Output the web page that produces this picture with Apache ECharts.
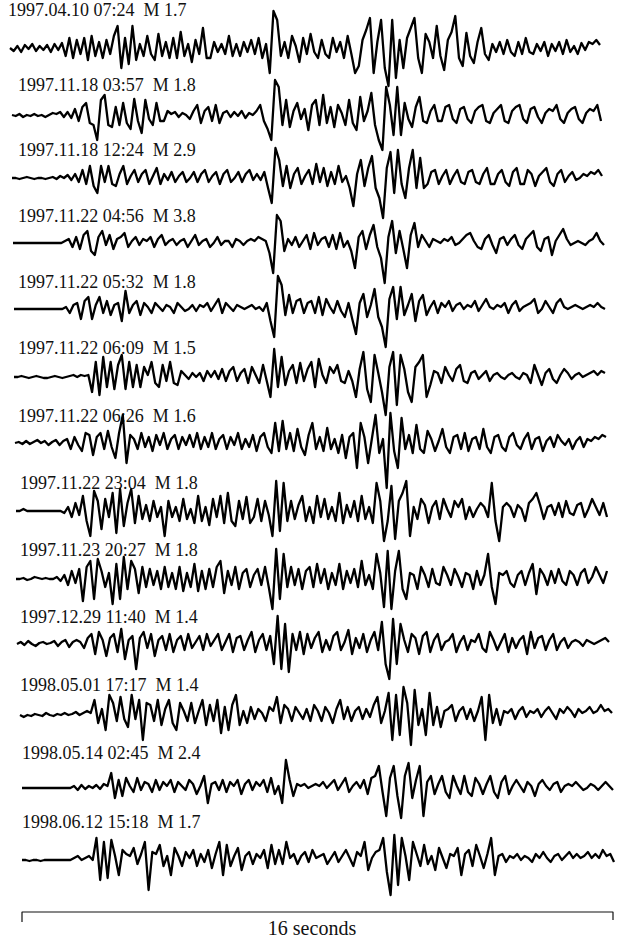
<!DOCTYPE html>
<html>
<head>
<meta charset="utf-8">
<script src="https://cdn.jsdelivr.net/npm/echarts@6/dist/echarts.min.js"></script>
<style>
html,body{margin:0;padding:0;background:#fff;}
#chart{width:624px;height:941px;}
</style>
</head>
<body>
<div id="chart"></div>
<script>
// ---------------- data ----------------
const LABELS = [
  "1997.04.10 07:24  M 1.7",
  "1997.11.18 03:57  M 1.8",
  "1997.11.18 12:24  M 2.9",
  "1997.11.22 04:56  M 3.8",
  "1997.11.22 05:32  M 1.8",
  "1997.11.22 06:09  M 1.5",
  "1997.11.22 06:26  M 1.6",
  "1997.11.22 23:04  M 1.8",
  "1997.11.23 20:27  M 1.8",
  "1997.12.29 11:40  M 1.4",
  "1998.05.01 17:17  M 1.4",
  "1998.05.14 02:45  M 2.4",
  "1998.06.12 15:18  M 1.7"
];
const SCALE_SECONDS = 16;
const SCALE_LABEL = "16 seconds";

// amplitudes (up = positive), 160 evenly spaced samples per record
const TRACE_01 = [0,-3,2,-4,3,-1,4,-3,2,-2, 3,-4,4,-2,5,-8,10,-10,8,-6, 10,-12,12,-8,6,-10,8,-6,12,22, -20,10,-16,22,-12,4,-8,12,-6,-12, 14,-8,6,-10,10,-10,16,-8,4,-14, 8,-6,20,-10,-10,6,-4,4,-6,12, -8,4,-8,6,-4,8,-6,10,-10,4, -25,37,28,-8,6,-10,12,2,-14,10, -6,14,-4,-10,8,-6,-10,10,-4,6, -10,12,-6,-25,-18,8,18,30,-25,6, 28,-20,-38,28,-30,8,-20,10,20,30, -10,-25,14,6,-10,22,-8,-22,8,16, 32,-10,-18,15,-8,-15,6,20,-6,-12, 4,-4,6,-6,8,-4,-8,6,-6,10, -4,-6,4,-3,6,-8,4,-3,6,-6, 8,-4,2,-6,5,-2,6,4,8,3];
const TRACE_02 = [0,-1,1,-2,0,-1,1,-1,0,-2, 0,2,1,3,-2,3,-3,6,-6,8, 12,-8,-10,-25,15,20,-10,-12,8,-10, 12,-8,-14,16,-6,-18,15,-4,-10,12, -6,-6,4,1,3,-2,2,0,-4,4, 10,-8,4,8,-6,10,-8,2,4,-2, 3,-1,4,-3,2,0,4,10,-6,-14, -25,35,28,-10,15,-12,4,12,-4,6, -15,10,15,-10,20,-8,8,-12,10,2, -10,15,-8,-15,18,-6,4,22,-10,-25, -35,28,10,-20,28,-20,12,-4,-12,8, 18,-6,-8,4,10,-6,-6,8,10,-4, -8,6,8,-4,-8,4,8,10,-6,-8, 2,6,10,-6,-8,4,8,10,-4,-8, 6,8,-2,-8,2,6,4,10,-4,-8, 2,6,8,-4,-8,2,6,4,10,-6];
const TRACE_03 = [0,0,-1,0,1,0,-1,0,0,-1, 0,1,-1,2,0,3,-2,4,-4,8, -6,12,-8,-15,12,-4,12,-6,-8,4, 12,-6,2,8,-4,4,8,-6,2,10, -6,4,-2,6,-4,2,6,-4,0,6, -4,4,8,-4,2,6,-6,4,8,-4, 0,6,-4,4,8,-2,4,-2,6,-10, -25,30,18,-8,12,-10,4,10,-6,2, 8,-6,14,-4,10,-8,6,-6,12,-4, 2,-10,-28,4,18,-8,10,22,-10,-20, -40,10,26,-15,28,-6,-20,10,28,-10, 20,-10,-6,6,8,-6,2,8,-6,2, 8,-4,-6,6,8,-4,-6,4,10,-6, -6,4,8,-4,-8,6,10,-6,-6,8, 4,-8,2,6,10,-4,-8,4,8,-4, 2,6,-2,0,4,2,6,4,8,2];
const TRACE_04 = [0,0,0,0,0,0,0,0,0,0, 0,0,0,0,2,4,-4,6,-6,8, 12,-8,-12,6,12,-2,8,-6,4,6, 10,-4,2,6,-2,4,2,6,-4,4, 8,-2,2,4,-2,2,4,-4,2,8, -2,2,4,-4,0,6,-2,2,2,-4, 4,2,-2,2,4,2,6,4,2,-10, -30,28,22,-8,4,-2,6,-4,2,8, -6,10,-2,4,6,-4,8,-6,10,-4, 2,-8,-25,6,12,-6,8,18,-4,-15, -40,6,22,-10,12,-6,-25,8,20,-4, 8,2,-4,4,2,0,4,2,6,-2, 0,4,8,10,2,-4,-6,4,8,-2, -10,4,6,-2,4,8,-2,-6,4,8, 12,-4,-8,4,6,-12,2,8,14,4, -2,0,2,0,-2,2,4,10,2,-2];
const TRACE_05 = [0,0,0,0,0,0,0,0,0,0, 0,0,0,0,2,-4,4,6,-10,8, 12,-10,4,12,-4,8,-6,4,6,-12, 18,-4,4,8,-6,6,2,-4,6,2, -2,4,2,-4,6,2,-2,0,4,-2, 4,2,6,-2,4,10,-4,6,2,-2, 4,2,0,2,4,0,2,-2,6,-12, -28,33,24,-6,14,-4,8,10,-4,6, 8,-4,12,-6,10,2,-4,8,-2,-8, 6,-10,-25,6,15,-8,4,20,-8,-18, -38,10,22,-10,22,-6,4,15,-12,8, 14,-6,2,8,-4,6,2,8,-2,4, 6,0,4,2,8,-2,4,10,2,0, 4,2,6,-4,4,8,-2,2,4,6, 10,-4,0,8,2,-4,6,10,2,0, 2,4,2,0,2,4,2,6,2,0];
const TRACE_06 = [0,0,1,0,-1,0,1,0,-1,-1, 0,1,0,-1,0,1,2,0,2,1, 2,-15,15,-18,20,-10,15,-12,12,22, -12,15,-10,12,-10,10,2,15,-6,-10, 12,-4,15,-6,-8,6,2,-2,4,0, 4,-4,6,0,6,-2,8,-4,6,10, -4,4,8,-6,10,2,-6,12,-4,-20, 28,-10,20,-8,6,12,-6,14,-4,8, 15,-10,18,2,-6,10,4,12,-4,-6, 6,-4,-20,8,25,-12,-25,22,4,-15, -38,10,25,-28,22,8,-15,-25,10,15, 22,-20,-8,6,4,-6,10,2,-4,8, 12,-4,-6,4,6,-2,2,6,-4,2, 4,0,-2,2,4,0,-2,4,2,-6, 12,2,-8,4,8,-2,-6,2,8,4, -2,2,4,0,2,4,6,2,6,4];
const TRACE_07 = [0,1,-1,2,-1,1,3,0,2,-2, 1,3,-2,2,4,-6,6,-2,-8,10, 8,-12,6,10,-6,12,-4,-15,10,28, -20,8,4,-6,10,-4,6,-8,8,-2, 10,-6,4,8,-6,6,-2,8,-4,10, -6,6,-4,10,-6,4,8,-6,6,-2, 10,-6,4,-4,8,-8,6,10,-4,-10, 20,-8,22,-6,10,-8,14,-4,-12,8, 20,-6,6,-8,15,-6,4,-10,8,-15, 6,10,-25,20,6,-20,4,28,-10,4, -45,30,-8,-25,25,-6,8,-10,18,-6, -10,12,4,-8,2,14,-4,-10,6,8, -6,10,-8,4,6,-6,14,-4,-10,6, 8,-4,-8,6,10,-2,-6,4,10,-6, 4,6,-8,2,6,-4,8,2,-2,4, -6,2,6,-4,4,2,6,4,8,6];
const TRACE_08 = [0,0,2,0,0,0,0,0,0,0, 0,0,0,-2,4,-6,8,-4,15,-10, -25,20,10,-18,12,-6,18,-22,22,-15, 8,22,-12,15,-8,6,-10,10,-6,4, -25,10,-6,4,-10,12,-8,2,-12,15, -10,4,-14,12,-6,15,-12,18,-10,-15, 10,-8,14,-12,-6,12,-10,10,-4,-25, 30,-20,28,-10,10,-8,6,15,-10,4, -12,15,-6,12,-8,4,-10,18,-12,6, -6,10,-10,15,-8,4,-12,28,10,-30, -10,25,-28,10,18,30,-25,4,-8,12, 6,-12,4,10,-8,12,2,-6,10,4, 12,-8,4,-6,2,8,4,-6,28,-10, -30,4,8,4,-6,6,2,-10,8,12, 18,6,-8,4,6,-4,8,-6,10,-2, -4,6,8,-6,2,12,4,-4,8,-6];
const TRACE_09 = [0,0,1,-1,0,2,1,0,1,0, 0,2,-2,4,-6,8,-4,10,-22,12, 18,-20,20,8,-8,6,-25,15,-20,22, -10,18,10,-14,12,-8,10,-6,8,-10, 12,-8,6,-10,12,-12,6,-8,15,-12, 8,-10,10,-8,12,18,-14,8,-6,12, -10,6,10,-8,4,10,-6,12,-8,-30, 30,-20,25,-8,12,-6,10,-10,8,12, -8,15,-4,10,-10,6,-6,15,-10,8, -4,10,-8,18,-6,4,-10,25,6,-28, 28,-30,8,28,-10,-20,6,4,-10,12, 4,-8,10,-4,-6,12,4,-6,10,2, -8,6,4,-10,8,-6,4,25,-8,-25, 6,4,8,-4,-8,4,8,-6,6,15, -15,10,4,-6,8,-4,10,-2,-6,8, 4,-6,6,10,-4,2,12,4,-4,8];
const TRACE_10 = [0,2,-1,3,0,-2,1,2,0,1, 3,-2,2,4,-3,2,4,2,-4,6, 10,-10,12,4,-12,6,10,-8,15,-15, 4,8,-25,6,12,-4,10,-12,4,8, -6,10,-8,4,8,-6,10,-4,2,8, -6,10,-2,4,10,-6,2,10,-8,6, 8,-6,4,12,-8,4,10,-6,8,-20, 28,-25,20,-28,10,-6,12,-10,10,-4, 6,12,-8,4,-6,8,12,-6,2,14, -10,6,-4,10,-8,4,12,-6,22,-20, -35,25,-20,20,4,-8,10,6,-10,8, 12,-8,4,10,-6,2,4,10,-8,2, 8,-6,4,2,10,-4,-8,12,4,-6, 2,10,-8,6,-4,4,8,-10,12,-4, 6,8,-6,4,10,-6,2,6,-4,2, 4,2,-2,4,2,0,2,4,6,2];
const TRACE_11 = [0,-2,0,-1,1,0,-1,2,0,-1, 1,0,2,0,1,3,0,2,4,2, 15,-8,6,-15,20,12,-6,18,-4,-12, 20,-4,15,-25,12,10,-6,15,-10,6, 15,-8,-15,12,4,-6,12,-8,4,15, -10,10,-6,15,-18,8,-15,10,20,-10, 4,-8,8,-4,6,2,-6,8,4,18, -8,10,6,-6,8,2,-4,6,-6,10, 4,-6,8,2,-8,6,15,-4,8,-6, 4,8,-4,6,-2,10,18,-8,4,22, -25,20,-20,28,12,-30,25,-10,6,-20, 22,-10,8,-12,4,6,10,-6,4,8, -4,6,-6,4,18,-25,20,-8,6,-10, 4,2,6,-4,4,8,-2,4,2,6, -2,4,8,2,-4,6,2,8,4,-2, 6,2,4,8,2,4,10,4,6,2];
const TRACE_12 = [0,0,0,0,0,0,0,0,0,0, 0,0,0,0,2,-2,3,-1,2,0, 3,-1,4,2,15,-10,8,-8,10,2, -4,10,-2,6,4,-4,8,-2,6,2, 8,-4,6,2,-2,8,4,-6,2,12, -15,4,6,-2,8,-4,6,2,8,-6, 4,8,-2,6,2,8,-4,10,-6,2, -15,28,8,-8,4,2,4,0,2,4, 2,6,0,4,8,-2,4,10,-4,2, 6,0,8,-6,10,12,22,-4,-28,10, 22,-8,-30,12,25,-10,8,22,-28,6, 12,-6,4,12,-4,-10,12,2,-6,12, -4,-8,10,4,-6,4,12,-4,-10,6, 12,-6,2,8,2,-4,6,2,-8,4, 8,2,-2,4,6,-4,2,4,2,6, 2,-2,0,4,2,-2,2,6,2,-2];
const TRACE_13 = [0,0,-1,0,0,-1,0,0,0,0, 0,0,0,0,2,4,0,2,4,0, 22,-20,18,-18,20,4,-15,10,6,4, 12,-4,6,18,-30,8,6,15,-6,4, -15,12,4,-6,8,2,10,-6,6,-2, 10,-8,6,18,-15,15,-6,4,12,-10, 4,8,-4,6,2,10,-8,15,-4,10, -4,18,2,6,-4,4,8,-2,10,2, 4,6,-4,2,8,-2,4,10,2,-6, 8,4,18,-10,2,8,10,22,-12,-35, 25,-25,22,4,-20,18,6,-6,15,-4, 4,-10,12,2,-8,6,4,12,-15,6, 10,-6,15,4,-8,6,22,-15,4,6, -2,4,2,6,0,4,2,-2,6,2, 8,2,-2,4,6,0,4,8,2,6, 2,4,8,2,6,2,10,4,6,-2];

const TRACES = [TRACE_01,TRACE_02,TRACE_03,TRACE_04,TRACE_05,TRACE_06,TRACE_07,
                TRACE_08,TRACE_09,TRACE_10,TRACE_11,TRACE_12,TRACE_13];

// ---------------- layout ----------------
const W = 624, H = 941;
const BAR_X0 = 22, BAR_X1 = 613;            // pixel ends of the 16 s bar
const PX_PER_S = (BAR_X1 - BAR_X0) / SCALE_SECONDS;
const toSec = px => (px - BAR_X0) / PX_PER_S;
const BASE_Y  = [48,115,178,243,309,377,443,511,579,644,715,788,860];
const START_X = [10,12,12,13,14,14,15,16,16,17,20,22,22];
const END_X   = [600,601,602,604,605,605,606,607,607,609,612,613,614];
const LABEL_Y = [10,85,150,216,282,348,416,483,550,617,685,753,822];
const LABEL_X = [8,18,18,18,18,18,18,20,20,20,20,22,22];
const BAR_Y = 912;

const series = TRACES.map((tr, k) => {
  const t0 = toSec(START_X[k]), t1 = toSec(END_X[k]);
  const n = tr.length;
  return {
    type: 'line', symbol: 'none', smooth: false, silent: true,
    lineStyle: { color: '#000', width: 2.3, join: 'round' },
    data: tr.map((v, i) => [t0 + (t1 - t0) * i / (n - 1), BASE_Y[k] - v])
  };
});
series.push({
  type: 'line', symbol: 'none', silent: true,
  lineStyle: { color: '#111', width: 1.2 },
  data: [[0, BAR_Y + 10], [0, BAR_Y], [SCALE_SECONDS, BAR_Y], [SCALE_SECONDS, BAR_Y + 8]]
});

const graphic = LABELS.map((txt, k) => ({
  type: 'text', left: LABEL_X[k], top: LABEL_Y[k] - 9,
  style: { text: txt, fill: '#111', font: '18px "Liberation Serif"' }
}));
graphic.push({
  type: 'text', left: 'center', top: BAR_Y + 6,
  style: { text: SCALE_LABEL, fill: '#111', font: '20px "Liberation Serif"' }
});

const chart = echarts.init(document.getElementById('chart'), null, { renderer: 'svg' });
chart.setOption({
  animation: false,
  backgroundColor: '#fff',
  grid: { left: 0, right: 0, top: 0, bottom: 0 },
  xAxis: { type: 'value', min: toSec(0), max: toSec(W), show: false },
  yAxis: { type: 'value', min: 0, max: H, inverse: true, show: false },
  series: series,
  graphic: graphic
});
</script>
</body>
</html>
